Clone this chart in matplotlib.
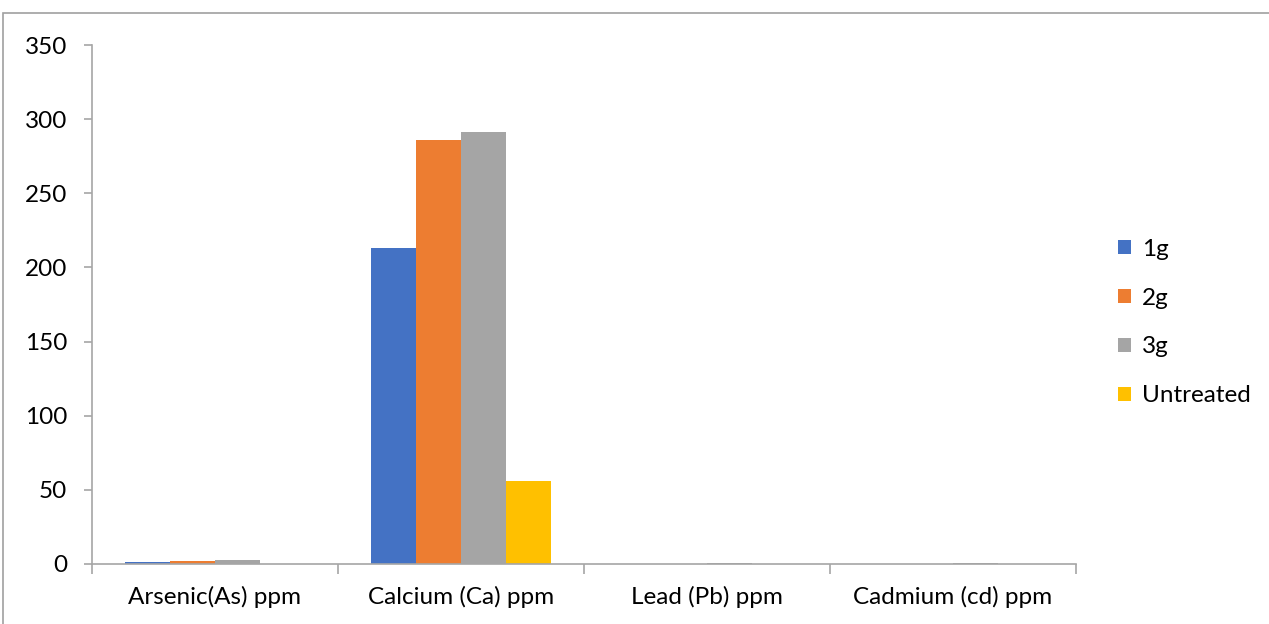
import numpy as np
import matplotlib.pyplot as plt
from matplotlib.patches import Rectangle

plt.rcParams['font.family'] = ['Lato', 'DejaVu Sans']

categories = ['Arsenic(As) ppm', 'Calcium (Ca) ppm', 'Lead (Pb) ppm', 'Cadmium (cd) ppm']
series = ['1g', '2g', '3g', 'Untreated']
vals_1g = [1.2, 213, 0.2, 0.1]
vals_2g = [1.8, 286, 0.3, 0.2]
vals_3g = [2.5, 291, 0.6, 0.5]
vals_untreated = [0.0, 56, 0.0, 0.0]
colors = ['#4472C4', '#ED7D31', '#A5A5A5', '#FFC000']

fig = plt.figure(figsize=(12.69, 6.24), dpi=100)
ax = fig.add_axes([92/1269, 1-564/624, 984/1269, 519/624])

x = np.arange(len(categories))
w = 45/246
data = [vals_1g, vals_2g, vals_3g, vals_untreated]
for i, (name, v) in enumerate(zip(series, data)):
    ax.bar(x + (i - 1.5)*w, v, width=w, color=colors[i], label=name)

ax.set_xlim(-0.5, len(categories) - 0.5)
ax.set_ylim(0, 350)
ax.set_yticks(range(0, 351, 50))
ax.set_xticks(x)
ax.set_xticklabels(categories)
ax.set_xticks(np.arange(len(categories)+1) - 0.5, minor=True)
ax.tick_params(axis='x', which='major', length=0, pad=16, labelsize=17.5)
ax.tick_params(axis='x', which='minor', length=7, color='#A6A6A6', width=1.2)
ax.tick_params(axis='y', length=6, color='#A6A6A6', width=1.2, labelsize=17.5, pad=12)

for s in ['top', 'right']:
    ax.spines[s].set_visible(False)
for s in ['left', 'bottom']:
    ax.spines[s].set_color('#A6A6A6')
    ax.spines[s].set_linewidth(1.2)

leg = ax.legend(loc='center left', bbox_to_anchor=(1.02, 0.5 - 18/519), frameon=False,
                fontsize=17.5, handlelength=0.55, handleheight=0.55,
                labelspacing=1.15, handletextpad=0.45)

fig.patches.append(Rectangle((3/1269, -0.1), 1.2, 1.1 - 13/624, transform=fig.transFigure,
                             fill=False, edgecolor='#A0A0A0', linewidth=1.2))

fig.savefig('out.png', dpi=100)
